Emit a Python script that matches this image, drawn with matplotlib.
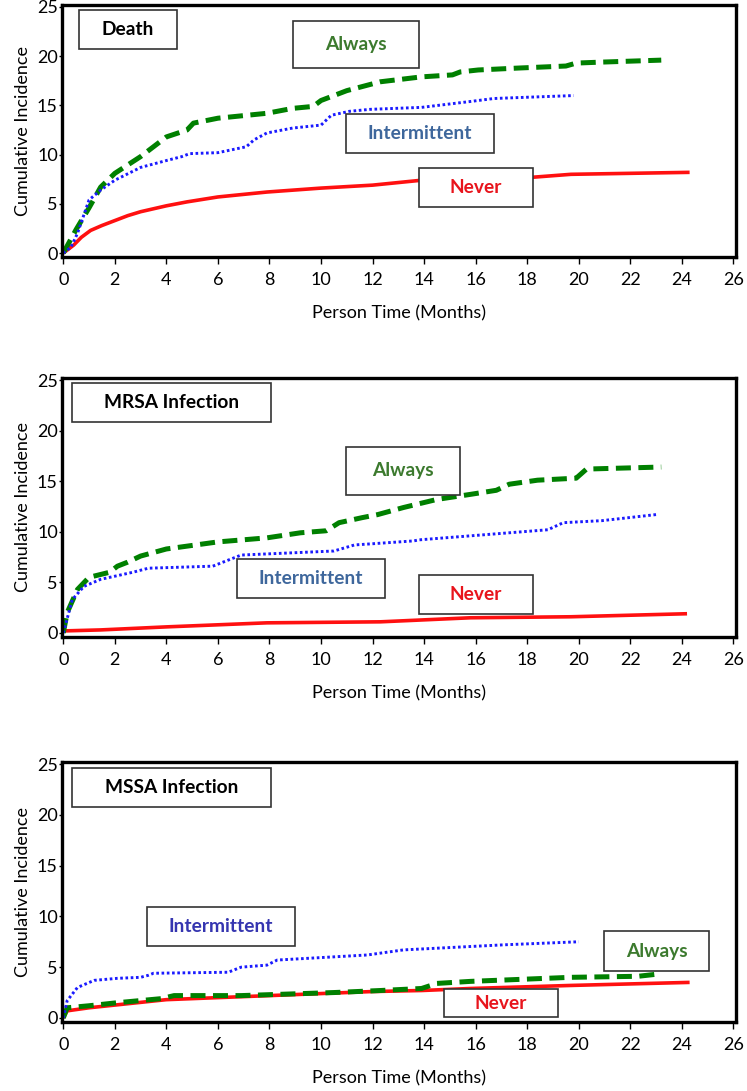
import matplotlib
matplotlib.use("Agg")
import matplotlib.pyplot as plt
from matplotlib.patches import Rectangle

plt.rcParams["font.family"] = ["Lato", "DejaVu Sans"]

# Death
death_always_t = [0, 0.5, 1.0, 1.45, 2.0, 3.0, 4.0, 4.8, 5.05, 6.0, 7.9, 8.9, 9.7, 10.0, 11.0,
                  12.3, 13.9, 15.1, 15.4, 16.1, 17.7, 19.5, 19.9, 20.9, 23.2]
death_always_y = [0, 2.4, 4.6, 6.7, 8.1, 9.8, 11.8, 12.5, 13.2, 13.7, 14.2, 14.7, 14.9, 15.5, 16.5,
                  17.4, 17.9, 18.1, 18.4, 18.6, 18.8, 19.0, 19.3, 19.4, 19.6]
death_inter_t = [0, 0.3, 0.55, 1.0, 1.45, 2.0, 3.0, 4.0, 4.6, 4.9, 6.0, 7.1, 7.4, 7.9, 8.9, 10.0,
                 10.4, 11.1, 11.9, 13.9, 15.8, 16.7, 17.7, 19.8]
death_inter_y = [0, 0.6, 2.0, 5.4, 6.4, 7.4, 8.7, 9.4, 9.8, 10.1, 10.2, 10.8, 11.5, 12.2, 12.7, 13.0,
                 14.0, 14.4, 14.6, 14.8, 15.4, 15.7, 15.8, 16.0]
death_never_t = [0, 0.2, 0.4, 0.7, 1.06, 1.5, 2.0, 2.5, 3.0, 4.0, 4.8, 6.0, 7.9, 10.0, 12.0, 13.9,
                 16.0, 18.2, 19.7, 22.0, 24.3]
death_never_y = [0, 0.4, 0.8, 1.6, 2.3, 2.8, 3.3, 3.8, 4.2, 4.8, 5.2, 5.7, 6.2, 6.6, 6.9, 7.4,
                 7.5, 7.7, 8.0, 8.1, 8.2]

# MRSA infection
mrsa_always_t = [0, 0.15, 0.55, 1.0, 1.8, 2.1, 2.5, 3.0, 4.0, 6.0, 7.9, 9.2, 10.2, 10.7, 11.6, 12.2,
                 13.2, 14.5, 15.8, 16.8, 17.3, 18.4, 19.9, 20.3, 23.2]
mrsa_always_y = [0, 2.0, 4.3, 5.5, 6.0, 6.6, 7.0, 7.6, 8.3, 9.0, 9.4, 9.9, 10.1, 10.9, 11.4, 11.7,
                 12.4, 13.2, 13.7, 14.1, 14.7, 15.1, 15.3, 16.2, 16.4]
mrsa_inter_t = [0, 0.35, 0.8, 1.45, 2.7, 3.3, 5.8, 6.6, 6.9, 10.5, 11.3, 11.9, 13.6, 13.8, 18.8,
                19.4, 20.9, 23.0]
mrsa_inter_y = [0, 3.3, 4.6, 5.3, 6.0, 6.4, 6.6, 7.4, 7.7, 8.1, 8.7, 8.8, 9.1, 9.2, 10.2,
                10.9, 11.1, 11.7]
mrsa_never_t = [0, 1.45, 4.0, 7.9, 12.3, 15.8, 19.7, 24.2]
mrsa_never_y = [0.2, 0.3, 0.6, 1.0, 1.1, 1.5, 1.6, 1.9]

# MSSA infection
mssa_always_t = [0, 0.15, 1.0, 2.1, 3.8, 4.3, 6.9, 10.5, 12.3, 13.9, 14.5, 15.8, 19.7, 22.3, 23.0]
mssa_always_y = [0, 1.0, 1.2, 1.5, 1.9, 2.2, 2.2, 2.5, 2.7, 2.9, 3.4, 3.6, 4.0, 4.1, 4.3]
mssa_inter_t = [0, 0.15, 0.55, 1.2, 2.1, 3.0, 3.3, 3.5, 6.4, 6.9, 7.9, 8.3, 11.8, 13.2, 17.1, 20.0]
mssa_inter_y = [0, 1.7, 3.0, 3.7, 3.9, 4.0, 4.2, 4.4, 4.5, 5.0, 5.2, 5.7, 6.2, 6.7, 7.2, 7.5]
mssa_never_t = [0, 0.15, 1.0, 4.0, 6.0, 8.0, 10.0, 12.0, 13.9, 15.8, 19.7, 24.3]
mssa_never_y = [0, 0.7, 1.0, 1.8, 2.0, 2.2, 2.4, 2.6, 2.7, 2.9, 3.2, 3.5]

x_ticks = list(range(0, 27, 2))
y_ticks = [0, 5, 10, 15, 20, 25]

GREEN, BLUE, RED = "#008000", "#1a1aff", "#ff1010"

panels = [
    dict(always=(death_always_t, death_always_y),
         inter=(death_inter_t, death_inter_y), never=(death_never_t, death_never_y),
         rect=[62, 5, 674, 252],
         boxes=[("Death", (0.025, 0.825, 0.146, 0.155), "black"),
                ("Always", (0.343, 0.750, 0.187, 0.187), "#3c7a2e"),
                ("Intermittent", (0.421, 0.413, 0.220, 0.154), "#3e679c"),
                ("Never", (0.530, 0.198, 0.169, 0.155), "#e8141c")]),
    dict(always=(mrsa_always_t, mrsa_always_y),
         inter=(mrsa_inter_t, mrsa_inter_y), never=(mrsa_never_t, mrsa_never_y),
         rect=[62, 378, 674, 259],
         boxes=[("MRSA Infection", (0.0148, 0.830, 0.295, 0.151), "black"),
                ("Always", (0.421, 0.548, 0.170, 0.186), "#3c7a2e"),
                ("Intermittent", (0.260, 0.151, 0.219, 0.150), "#3e679c"),
                ("Never", (0.530, 0.089, 0.169, 0.150), "#e8141c")]),
    dict(always=(mssa_always_t, mssa_always_y),
         inter=(mssa_inter_t, mssa_inter_y), never=(mssa_never_t, mssa_never_y),
         rect=[62, 762, 674, 260],
         boxes=[("MSSA Infection", (0.0148, 0.827, 0.295, 0.150), "black"),
                ("Intermittent", (0.126, 0.292, 0.220, 0.150), "#3535b0"),
                ("Always", (0.804, 0.196, 0.156, 0.154), "#3c7a2e"),
                ("Never", (0.567, 0.019, 0.169, 0.108), "#e8141c")]),
]

W, H = 747, 1091
fig = plt.figure(figsize=(W / 100, H / 100), dpi=100)

for p in panels:
    x0, y0, w, h = p["rect"]
    ax = fig.add_axes([x0 / W, (H - y0 - h) / H, w / W, h / H])
    ax.plot(*p["never"], color=RED, lw=2.6, solid_capstyle="butt")
    ax.plot(*p["always"], color=GREEN, lw=3.6, linestyle=(0, (3.0, 1.5)))
    ax.plot(*p["inter"], color=BLUE, lw=2.1, linestyle=(0, (0.9, 0.9)))
    ax.set_xlim(-0.05, 26.1)
    ax.set_ylim(-0.4, 25.2)
    ax.set_xticks(x_ticks)
    ax.set_yticks(y_ticks)
    for s in ax.spines.values():
        s.set_linewidth(2.4)
    ax.tick_params(axis="x", length=5, width=1, pad=6, labelsize=13)
    ax.tick_params(axis="y", length=2, width=1, pad=1, labelsize=13)
    ax.set_xlabel("Person Time (Months)", fontsize=13, labelpad=12)
    ax.set_ylabel("Cumulative Incidence", fontsize=13, labelpad=4)
    for label, (bx, by, bw, bh), color in p["boxes"]:
        ax.add_patch(Rectangle((bx, by), bw, bh, transform=ax.transAxes, fill=True,
                               facecolor="white", edgecolor="#333333", lw=1.2, zorder=5))
        ax.text(bx + bw / 2, by + bh / 2, label, transform=ax.transAxes, ha="center",
                va="center", fontsize=13.8, fontweight="bold", color=color, zorder=6)

fig.savefig("out.png", dpi=100)
